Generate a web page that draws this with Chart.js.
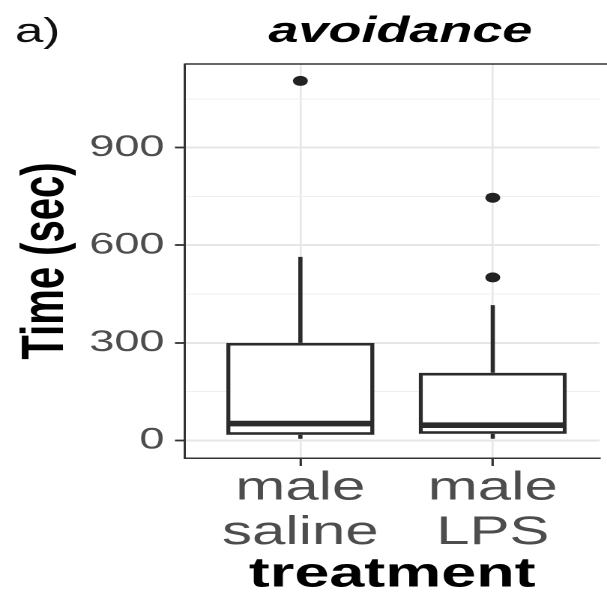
<!DOCTYPE html>
<html>
<head>
<meta charset="utf-8">
<script src="https://cdn.jsdelivr.net/npm/chart.js@4.4.1/dist/chart.umd.min.js"></script>
<style>
  html, body { margin: 0; padding: 0; background: #fff; overflow: hidden; }
  /* the figure is drawn on a narrow canvas and widened horizontally */
  #wrap { width: 405px; height: 594px; transform: scaleX(1.4988); transform-origin: 0 0; }
</style>
</head>
<body>
<div id="wrap"><canvas id="c" width="405" height="594"></canvas></div>
<script>
const FONT = "'Liberation Sans', Arial, Helvetica, sans-serif";

// treatment groups (x positions on the discrete axis) and their labels
const groupPos = [1, 2];
const groupLabels = [['male', 'saline'], ['male', 'LPS']];

// box plot summaries, time in seconds
const whiskerLow  = [5, 5];
const q1          = [17, 20];
const medians     = [52, 47];
const q3          = [300, 208];
const whiskerHigh = [564, 416];
const outliers    = [[1105], [746, 501]];

// y axis ticks
const yMajor = [0, 300, 600, 900];
const yMinor = [150, 450, 750, 1050];

const HALF_BOX = 0.375;
const INK = '#2b2b2b';
const isMajor = v => yMajor.includes(v);

const boxSet = {
  type: 'bar',
  data: groupPos.map((x, i) => ({ x, y: [q1[i], q3[i]] })),
  backgroundColor: '#ffffff',
  borderColor: INK,
  borderWidth: 2.8,
  borderSkipped: false,
  barPercentage: 0.77,
  categoryPercentage: 1,
  order: 3
};

const medianSets = groupPos.map((x, i) => ({
  type: 'line',
  data: [{ x: x - HALF_BOX, y: medians[i] }, { x: x + HALF_BOX, y: medians[i] }],
  borderColor: INK, borderWidth: 5.6, borderCapStyle: 'butt',
  pointRadius: 0, fill: false, order: 2
}));

const whiskerSets = groupPos.flatMap((x, i) => [
  [whiskerLow[i], q1[i]],
  [q3[i], whiskerHigh[i]]
].map(([a, b]) => ({
  type: 'line',
  data: [{ x, y: a }, { x, y: b }],
  borderColor: INK, borderWidth: 2.8, borderCapStyle: 'butt',
  pointRadius: 0, fill: false, order: 4
})));

const outlierSet = {
  type: 'scatter',
  data: outliers.flatMap((vals, i) => vals.map(v => ({ x: groupPos[i], y: v }))),
  backgroundColor: '#222222',
  borderWidth: 0,
  pointRadius: 5,
  order: 1
};

// panel top edge plus panel tag and title
const panelDecor = {
  id: 'panelDecor',
  afterDatasetsDraw(chart) {
    const { ctx, chartArea } = chart;
    ctx.save();
    ctx.strokeStyle = '#333';
    ctx.lineWidth = 1.5;
    ctx.beginPath();
    ctx.moveTo(chartArea.left, chartArea.top);
    ctx.lineTo(chartArea.right + 5, chartArea.top);
    ctx.stroke();
    ctx.restore();
  },
  afterDraw(chart) {
    const { ctx } = chart;
    const xs = chart.scales.x;
    ctx.save();
    ctx.fillStyle = '#111';
    ctx.textBaseline = 'alphabetic';
    ctx.textAlign = 'left';
    ctx.font = `34px ${FONT}`;
    ctx.fillText('a)', 10, 42);
    ctx.fillStyle = '#000';
    ctx.textAlign = 'center';
    ctx.font = `italic bold 36px ${FONT}`;
    ctx.fillText('avoidance', xs.getPixelForValue(1.52), 42);
    ctx.restore();
  }
};

new Chart(document.getElementById('c'), {
  type: 'scatter',
  data: { datasets: [outlierSet, ...medianSets, boxSet, ...whiskerSets] },
  options: {
    responsive: false,
    devicePixelRatio: 2,
    animation: false,
    events: [],
    layout: { padding: { top: 64, left: 0, right: 0, bottom: 0 } },
    plugins: { legend: { display: false }, tooltip: { enabled: false } },
    scales: {
      x: {
        type: 'linear',
        min: 0.4,
        max: 2.555,
        bounds: 'data',
        offset: false,
        afterBuildTicks: s => { s.ticks = groupPos.map(v => ({ value: v })); },
        afterFit: s => { s.height = 136; },
        ticks: {
          autoSkip: false, maxRotation: 0, padding: 0, color: '#4d4d4d',
          font: { family: FONT, size: 40, lineHeight: 1.12 },
          callback: (v, i) => groupLabels[i]
        },
        grid: {
          offset: false, color: '#e6e6e6', lineWidth: 1.3,
          drawTicks: true, tickLength: 8, tickColor: '#333', tickWidth: 1.6
        },
        border: { display: true, color: '#333', width: 1.5 },
        title: {
          display: true, text: 'treatment', color: '#000',
          font: { family: FONT, size: 42, weight: 'bold', lineHeight: 0.9 },
          padding: { top: 0, bottom: 0 }
        }
      },
      y: {
        type: 'linear',
        min: -54,
        max: 1157,
        bounds: 'data',
        afterBuildTicks: s => {
          s.ticks = [...yMajor, ...yMinor].sort((a, b) => a - b).map(v => ({ value: v }));
        },
        afterFit: s => { s.width = 123.4; },
        ticks: {
          autoSkip: false, padding: 7, color: '#4d4d4d',
          font: { family: FONT, size: 30 },
          callback: v => isMajor(v) ? String(v) : ''
        },
        grid: {
          color: c => isMajor(c.tick.value) ? '#e6e6e6' : '#efefef',
          lineWidth: c => isMajor(c.tick.value) ? 2 : 1,
          drawTicks: true, tickLength: 6.7,
          tickColor: c => isMajor(c.tick.value) ? '#333' : 'rgba(0,0,0,0)',
          tickWidth: 1.8
        },
        border: { display: true, color: '#333', width: 1.5 },
        title: {
          display: true, text: 'Time (sec)', color: '#000',
          font: { family: FONT, size: 40, weight: 'bold', lineHeight: 1 },
          padding: { top: 11, bottom: 0 }
        }
      }
    }
  },
  plugins: [panelDecor]
});
</script>
</body>
</html>
